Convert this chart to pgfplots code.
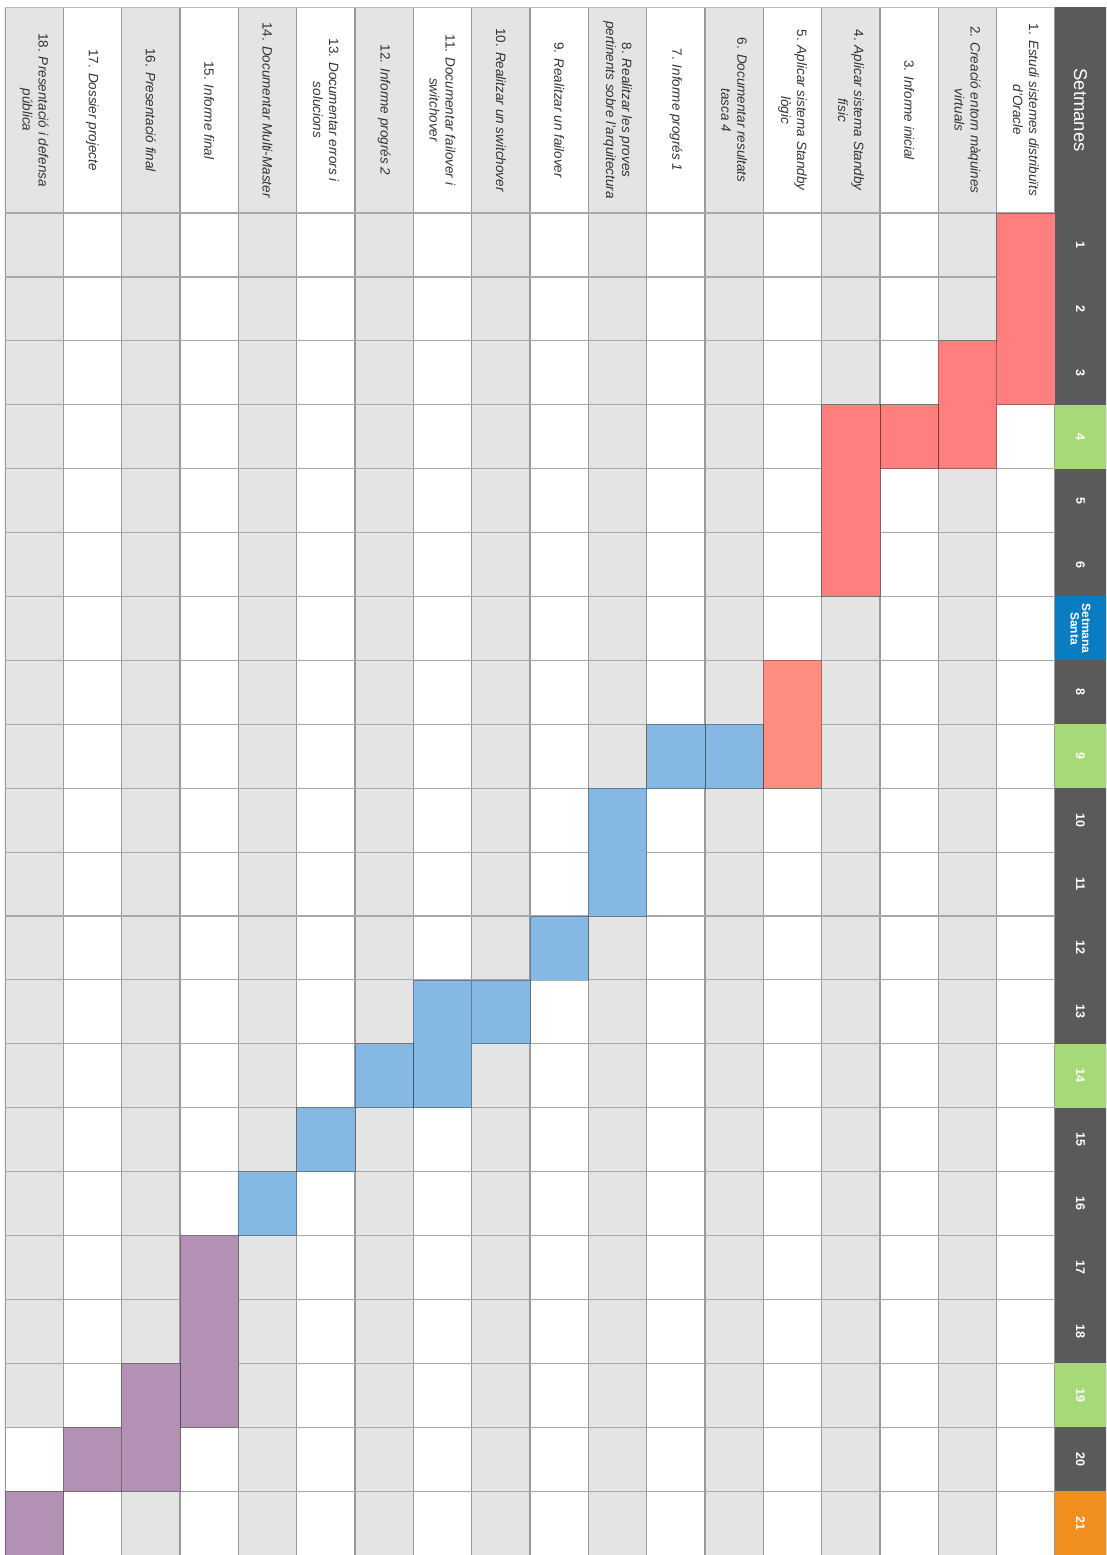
\documentclass[border=0pt]{standalone}
\usepackage{fontspec}
\setmainfont{Liberation Sans}
\usepackage{pgfplots}
\pgfplotsset{compat=1.18}
\definecolor{cellgray}{HTML}{E4E4E4}
\definecolor{gridc}{HTML}{999999}
\definecolor{hdark}{HTML}{5A5A5A}
\definecolor{hgreen}{HTML}{A6DA79}
\definecolor{hblue}{HTML}{0A7CC1}
\definecolor{horange}{HTML}{F08F1E}
\definecolor{barred}{HTML}{FF7F7F}
\definecolor{barsalmon}{HTML}{FF8D80}
\definecolor{barblue}{HTML}{85B9E3}
\definecolor{barpurple}{HTML}{B391B5}
\definecolor{txt}{HTML}{333333}
\tikzset{
  gbar/.style={draw=black, draw opacity=0.3, line width=0.8pt},
  lab/.style={rotate=-90, align=center, text=txt, font=\fontsize{13.5}{16}\selectfont\itshape},
  wk/.style={rotate=-90, align=center, text=white, font=\fontsize{12.5}{12.5}\selectfont\bfseries},
}

\begin{document}
\begin{tikzpicture}
\useasboundingbox (0,0) rectangle (1106pt,-1555pt);
\begin{axis}[
  at={(5pt,-7pt)}, anchor=north west,
  scale only axis, width=1101pt, height=1548pt,
  xmin=-0.874, xmax=18, ymin=-3.224, ymax=21,
  x dir=reverse, y dir=reverse,
  axis line style={draw=none},
  xtick=\empty, ytick=\empty,
  clip=true,
]
% ---- alternating column backgrounds (even tasks grey) ----
\addplot[fill=cellgray, draw=none] coordinates {(1,-3.224) (2,-3.224) (2,21) (1,21)} -- cycle;
\addplot[fill=cellgray, draw=none] coordinates {(3,-3.224) (4,-3.224) (4,21) (3,21)} -- cycle;
\addplot[fill=cellgray, draw=none] coordinates {(5,-3.224) (6,-3.224) (6,21) (5,21)} -- cycle;
\addplot[fill=cellgray, draw=none] coordinates {(7,-3.224) (8,-3.224) (8,21) (7,21)} -- cycle;
\addplot[fill=cellgray, draw=none] coordinates {(9,-3.224) (10,-3.224) (10,21) (9,21)} -- cycle;
\addplot[fill=cellgray, draw=none] coordinates {(11,-3.224) (12,-3.224) (12,21) (11,21)} -- cycle;
\addplot[fill=cellgray, draw=none] coordinates {(13,-3.224) (14,-3.224) (14,21) (13,21)} -- cycle;
\addplot[fill=cellgray, draw=none] coordinates {(15,-3.224) (16,-3.224) (16,21) (15,21)} -- cycle;
\addplot[fill=cellgray, draw=none] coordinates {(17,-3.224) (18,-3.224) (18,19) (17,19)} -- cycle;
\addplot[fill=cellgray, draw=none] coordinates {(17,20) (18,20) (18,21) (17,21)} -- cycle;
% ---- grid lines ----
\pgfplotsinvokeforeach{0,...,18}{
  \addplot[gridc, line width=1.1pt] coordinates {(#1,-3.224) (#1,21)};
}
\pgfplotsinvokeforeach{0,...,20}{
  \addplot[gridc!85, line width=1.1pt] coordinates {(0,#1) (18,#1)};
}
\addplot[gridc!70, line width=1.6pt] coordinates {(-1,-3.224) (18,-3.224)};
% ---- Gantt bars: task column [i-1,i], weeks [start-1,end] ----
\addplot[gbar, fill=barred]    coordinates {(0,0) (1,0) (1,3) (0,3)} -- cycle;     % 1: w1-3
\addplot[gbar, fill=barred]    coordinates {(1,2) (2,2) (2,4) (1,4)} -- cycle;     % 2: w3-4
\addplot[gbar, fill=barred]    coordinates {(2,3) (3,3) (3,4) (2,4)} -- cycle;     % 3: w4
\addplot[gbar, fill=barred]    coordinates {(3,3) (4,3) (4,6) (3,6)} -- cycle;     % 4: w4-6
\addplot[gbar, fill=barsalmon] coordinates {(4,7) (5,7) (5,9) (4,9)} -- cycle;     % 5: w8-9
\addplot[gbar, fill=barblue]   coordinates {(5,8) (6,8) (6,9) (5,9)} -- cycle;     % 6: w9
\addplot[gbar, fill=barblue]   coordinates {(6,8) (7,8) (7,9) (6,9)} -- cycle;     % 7: w9
\addplot[gbar, fill=barblue]   coordinates {(7,9) (8,9) (8,11) (7,11)} -- cycle;   % 8: w10-11
\addplot[gbar, fill=barblue]   coordinates {(8,11) (9,11) (9,12) (8,12)} -- cycle; % 9: w12
\addplot[gbar, fill=barblue]   coordinates {(9,12) (10,12) (10,13) (9,13)} -- cycle; % 10: w13
\addplot[gbar, fill=barblue]   coordinates {(10,12) (11,12) (11,14) (10,14)} -- cycle; % 11: w13-14
\addplot[gbar, fill=barblue]   coordinates {(11,13) (12,13) (12,14) (11,14)} -- cycle; % 12: w14
\addplot[gbar, fill=barblue]   coordinates {(12,14) (13,14) (13,15) (12,15)} -- cycle; % 13: w15
\addplot[gbar, fill=barblue]   coordinates {(13,15) (14,15) (14,16) (13,16)} -- cycle; % 14: w16
\addplot[gbar, fill=barpurple] coordinates {(14,16) (15,16) (15,19) (14,19)} -- cycle; % 15: w17-19
\addplot[gbar, fill=barpurple] coordinates {(15,18) (16,18) (16,20) (15,20)} -- cycle; % 16: w19-20
\addplot[gbar, fill=barpurple] coordinates {(16,19) (17,19) (17,20) (16,20)} -- cycle; % 17: w20
\addplot[gbar, fill=barpurple] coordinates {(17,20) (18,20) (18,21) (17,21)} -- cycle; % 18: w21
% ---- header column (weeks) ----
\addplot[fill=hdark, draw=none] coordinates {(-1,-3.3) (0,-3.3) (0,21) (-1,21)} -- cycle;
\addplot[fill=hgreen, draw=none]  coordinates {(-1,3) (0,3) (0,4) (-1,4)} -- cycle;
\addplot[fill=hblue, draw=none]   coordinates {(-1,6) (0,6) (0,7) (-1,7)} -- cycle;
\addplot[fill=hgreen, draw=none]  coordinates {(-1,8) (0,8) (0,9) (-1,9)} -- cycle;
\addplot[fill=hgreen, draw=none]  coordinates {(-1,13) (0,13) (0,14) (-1,14)} -- cycle;
\addplot[fill=hgreen, draw=none]  coordinates {(-1,18) (0,18) (0,19) (-1,19)} -- cycle;
\addplot[fill=horange, draw=none] coordinates {(-1,20) (0,20) (0,21) (-1,21)} -- cycle;
% ---- header texts ----
\node[rotate=-90, text=white, font=\fontsize{18.5}{20}\selectfont] at (axis cs:-0.437,-1.612) {Setmanes};
\node[wk] at (axis cs:-0.437,0.5) {1};
\node[wk] at (axis cs:-0.437,1.5) {2};
\node[wk] at (axis cs:-0.437,2.5) {3};
\node[wk] at (axis cs:-0.437,3.5) {4};
\node[wk] at (axis cs:-0.437,4.5) {5};
\node[wk] at (axis cs:-0.437,5.5) {6};
\node[wk, font=\fontsize{12}{11.5}\selectfont\bfseries] at (axis cs:-0.437,6.5) {Setmana\\Santa};
\node[wk] at (axis cs:-0.437,7.5) {8};
\node[wk] at (axis cs:-0.437,8.5) {9};
\node[wk] at (axis cs:-0.437,9.5) {10};
\node[wk] at (axis cs:-0.437,10.5) {11};
\node[wk] at (axis cs:-0.437,11.5) {12};
\node[wk] at (axis cs:-0.437,12.5) {13};
\node[wk] at (axis cs:-0.437,13.5) {14};
\node[wk] at (axis cs:-0.437,14.5) {15};
\node[wk] at (axis cs:-0.437,15.5) {16};
\node[wk] at (axis cs:-0.437,16.5) {17};
\node[wk] at (axis cs:-0.437,17.5) {18};
\node[wk] at (axis cs:-0.437,18.5) {19};
\node[wk] at (axis cs:-0.437,19.5) {20};
\node[wk] at (axis cs:-0.437,20.5) {21};
% ---- task labels ----
\node[lab] at (axis cs:0.5,-1.612)  {\textup{1.} Estudi sistemes distribuïts\\d'Oracle};
\node[lab] at (axis cs:1.5,-1.612)  {\textup{2.} Creació entorn màquines\\virtuals};
\node[lab] at (axis cs:2.5,-1.612)  {\textup{3.} Informe inicial};
\node[lab] at (axis cs:3.5,-1.612)  {\textup{4.} Aplicar sistema Standby\\físic};
\node[lab] at (axis cs:4.5,-1.612)  {\textup{5.} Aplicar sistema Standby\\lògic};
\node[lab] at (axis cs:5.5,-1.612)  {\textup{6.} Documentar resultats\\tasca 4};
\node[lab] at (axis cs:6.5,-1.612)  {\textup{7.} Informe progrés 1};
\node[lab] at (axis cs:7.5,-1.612)  {\textup{8.} Realitzar les proves\\pertinents sobre l'arquitectura};
\node[lab] at (axis cs:8.5,-1.612)  {\textup{9.} Realitzar un failover};
\node[lab] at (axis cs:9.5,-1.612)  {\textup{10.} Realitzar un switchover};
\node[lab] at (axis cs:10.5,-1.612) {\textup{11.} Documentar failover i\\switchover};
\node[lab] at (axis cs:11.5,-1.612) {\textup{12.} Informe progrés 2};
\node[lab] at (axis cs:12.5,-1.612) {\textup{13.} Documentar errors i\\solucions};
\node[lab] at (axis cs:13.5,-1.612) {\textup{14.} Documentar Multi-Master};
\node[lab] at (axis cs:14.5,-1.612) {\textup{15.} Informe final};
\node[lab] at (axis cs:15.5,-1.612) {\textup{16.} Presentació final};
\node[lab] at (axis cs:16.5,-1.612) {\textup{17.} Dossier projecte};
\node[lab] at (axis cs:17.5,-1.612) {\textup{18.} Presentació i defensa\\pública};
\end{axis}
\end{tikzpicture}
\end{document}
